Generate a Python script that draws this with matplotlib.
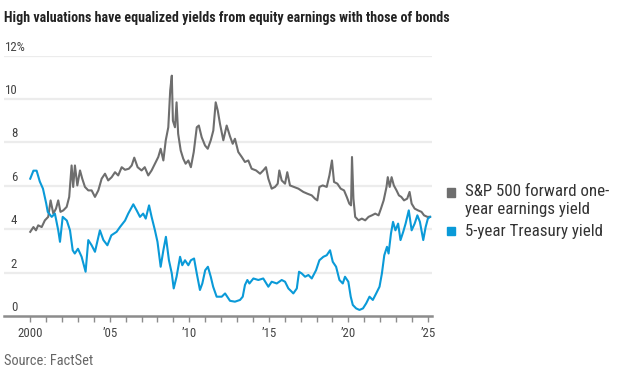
import matplotlib
matplotlib.use("Agg")
import matplotlib.pyplot as plt
import matplotlib.font_manager as fm

# values (decimal years, percent)
sp_years = [2000.0, 2000.2, 2000.36, 2000.5, 2000.72, 2000.92, 2001.13, 2001.28, 2001.45, 2001.62,
            2001.76, 2001.9, 2002.08, 2002.29, 2002.45, 2002.6, 2002.7, 2002.81, 2002.96, 2003.13,
            2003.27, 2003.44, 2003.65, 2003.86, 2004.07, 2004.28, 2004.49, 2004.7, 2004.9, 2005.12,
            2005.33, 2005.53, 2005.75, 2005.96, 2006.2, 2006.38, 2006.54, 2006.75, 2007.0, 2007.2,
            2007.42, 2007.63, 2007.84, 2008.05, 2008.2, 2008.37, 2008.52, 2008.68, 2008.8, 2008.9,
            2008.97, 2009.1, 2009.2, 2009.3, 2009.46, 2009.62, 2009.77, 2009.94, 2010.1, 2010.28,
            2010.47, 2010.6, 2010.78, 2010.99, 2011.16, 2011.35, 2011.51, 2011.66, 2011.79, 2011.93,
            2012.14, 2012.35, 2012.56, 2012.73, 2012.87, 2013.08, 2013.3, 2013.5, 2013.71, 2013.92,
            2014.2, 2014.45, 2014.65, 2014.82, 2014.97, 2015.18, 2015.39, 2015.56, 2015.66, 2015.81,
            2016.02, 2016.16, 2016.33, 2016.58, 2016.86, 2017.17, 2017.42, 2017.7, 2017.9, 2018.05,
            2018.18, 2018.39, 2018.64, 2018.81, 2018.97, 2019.1, 2019.31, 2019.52, 2019.73, 2019.9,
            2020.06, 2020.17, 2020.23, 2020.32, 2020.43, 2020.64, 2020.85, 2021.06, 2021.27, 2021.48,
            2021.69, 2021.9, 2022.05, 2022.22, 2022.4, 2022.48, 2022.6, 2022.72, 2022.86, 2023.03,
            2023.18, 2023.33, 2023.5, 2023.7, 2023.85, 2023.98, 2024.17, 2024.38, 2024.6, 2024.76,
            2024.97, 2025.14]
sp_vals = [3.88, 4.1, 3.95, 4.18, 4.1, 4.41, 4.57, 5.33, 4.72, 4.95,
           5.33, 4.8, 4.87, 5.03, 5.49, 6.94, 5.95, 6.94, 6.02, 6.71,
           6.33, 5.95, 5.79, 5.79, 5.49, 5.79, 6.33, 6.56, 6.25, 6.4,
           6.63, 6.48, 6.86, 6.74, 6.79, 6.94, 7.3, 6.86, 6.71, 6.86,
           6.48, 6.71, 7.02, 7.33, 7.71, 7.17, 8.1, 8.7, 10.4, 11.08,
           9.0, 8.7, 9.85, 8.4, 7.63, 7.25, 7.02, 7.17, 6.86, 7.56,
           8.7, 8.78, 8.24, 7.86, 7.71, 8.1, 8.55, 9.85, 9.47, 8.86,
           8.1, 8.78, 8.28, 7.94, 8.17, 7.56, 7.33, 7.1, 7.17, 6.79,
           6.71, 6.56, 6.71, 6.86, 6.33, 5.87, 5.95, 6.1, 6.71, 6.25,
           6.1, 6.63, 6.02, 5.95, 5.87, 5.72, 5.64, 5.56, 5.41, 5.33,
           5.95, 6.02, 5.95, 6.48, 7.17, 6.18, 6.1, 5.87, 5.79, 5.49,
           5.18, 5.1, 7.33, 5.41, 4.57, 4.41, 4.49, 4.41, 4.57, 4.64,
           4.72, 4.64, 4.95, 5.33, 5.95, 6.4, 5.95, 6.4, 6.02, 5.79,
           5.56, 5.49, 5.33, 5.41, 5.72, 5.18, 4.95, 4.87, 4.8, 4.64,
           4.57, 4.57]

tsy_years = [2000.0, 2000.2, 2000.4, 2000.6, 2000.8, 2001.0, 2001.1, 2001.35, 2001.55, 2001.76,
             2001.87, 2002.04, 2002.3, 2002.5, 2002.67, 2002.8, 2003.0, 2003.23, 2003.48, 2003.65,
             2003.86, 2004.07, 2004.38, 2004.6, 2004.85, 2005.1, 2005.43, 2005.64, 2005.96, 2006.16,
             2006.48, 2006.69, 2006.9, 2007.1, 2007.26, 2007.47, 2007.63, 2007.84, 2008.0, 2008.2,
             2008.37, 2008.53, 2008.72, 2008.9, 2009.02, 2009.2, 2009.42, 2009.56, 2009.73, 2009.94,
             2010.1, 2010.3, 2010.47, 2010.67, 2010.82, 2011.0, 2011.17, 2011.35, 2011.5, 2011.72,
             2012.04, 2012.25, 2012.56, 2012.87, 2013.19, 2013.36, 2013.5, 2013.65, 2013.78, 2014.03,
             2014.34, 2014.65, 2014.97, 2015.18, 2015.5, 2015.81, 2016.02, 2016.23, 2016.44, 2016.54,
             2016.76, 2016.9, 2017.07, 2017.28, 2017.49, 2017.7, 2017.97, 2018.18, 2018.43, 2018.64,
             2018.85, 2019.02, 2019.23, 2019.44, 2019.65, 2019.79, 2020.0, 2020.15, 2020.28, 2020.49,
             2020.7, 2020.92, 2021.12, 2021.33, 2021.54, 2021.75, 2021.96, 2022.11, 2022.26, 2022.43,
             2022.53, 2022.68, 2022.81, 2022.96, 2023.13, 2023.28, 2023.45, 2023.6, 2023.8, 2023.98,
             2024.17, 2024.34, 2024.5, 2024.71, 2024.86, 2025.0, 2025.14]
tsy_vals = [6.33, 6.7, 6.7, 6.2, 5.87, 5.2, 4.8, 4.57, 4.72, 3.95,
            3.42, 4.57, 4.4, 3.95, 3.03, 2.88, 3.1, 2.73, 2.04, 3.5,
            3.26, 2.96, 3.95, 3.5, 3.26, 3.72, 3.88, 4.1, 4.4, 4.72,
            5.15, 4.87, 4.57, 4.72, 4.49, 5.1, 4.57, 3.95, 3.42, 2.27,
            3.03, 3.65, 2.57, 1.96, 1.27, 1.81, 2.73, 2.34, 2.57, 2.34,
            2.57, 2.65, 1.96, 1.2, 1.5, 2.11, 2.27, 1.81, 1.35, 0.89,
            0.89, 1.04, 0.7, 0.66, 0.74, 0.89, 1.43, 1.66, 1.5, 1.73,
            1.66, 1.73, 1.35, 1.58, 1.5, 1.66, 1.58, 1.27, 1.12, 1.04,
            1.27, 2.04, 1.96, 1.81, 1.89, 1.73, 2.11, 2.57, 2.73, 2.8,
            3.03, 2.5, 2.27, 1.66, 1.5, 1.81, 1.58, 0.89, 0.51, 0.35,
            0.28, 0.35, 0.58, 0.89, 0.74, 1.04, 1.35, 1.96, 2.8, 3.19,
            2.88, 3.8, 4.34, 3.95, 4.26, 3.5, 3.88, 4.26, 4.87, 3.95,
            4.26, 4.64, 4.34, 3.5, 4.1, 4.49, 4.57]

y_ticks = [0, 2, 4, 6, 8, 10, 12]
x_ticks = [2000, 2005, 2010, 2015, 2020, 2025]
x_labels = ["2000", "\u201905", "\u201910", "\u201915", "\u201920", "\u201925"]

GREY = "#6e6e6e"
BLUE = "#0a9ad8"


# look for a narrow face like the WSJ one, otherwise fall back
def pick_font():
    entries = fm.fontManager.ttflist
    names = {e.name for e in entries}
    for want in ["Liberation Sans Narrow", "Roboto Condensed", "Noto Sans Condensed",
                 "Open Sans Condensed", "DejaVu Sans Condensed"]:
        if want in names:
            return want, "normal"
    for fam in ["Noto Sans", "Open Sans", "DejaVu Sans"]:
        for e in entries:
            fn = e.fname.lower()
            if e.name == fam and "condensed" in fn and "semi" not in fn and "extra" not in fn:
                return fam, "condensed"
    return "Liberation Sans", "normal"


FAM, STRETCH = pick_font()
plt.rcParams["font.family"] = [FAM, "DejaVu Sans"]
plt.rcParams["font.stretch"] = STRETCH

W, H = 617, 376
fig = plt.figure(figsize=(W / 100, H / 100), dpi=100)
fig.patch.set_facecolor("white")
renderer = fig.canvas.get_renderer()


def fx(px):
    return px / W


def fy(py):
    return 1 - py / H


def text_w(txt):
    return txt.get_window_extent(renderer).width


def fit(txt, target_px):
    # scale the font so the text spans the width it has in the reference
    txt.set_fontsize(txt.get_fontsize() * target_px / text_w(txt))
    return txt.get_fontsize()


ax = fig.add_axes([fx(4), fy(316), fx(432) - fx(4), fy(55.7) - fy(316)])
ax.set_xlim(1998.35, 2025.26)
ax.set_ylim(0, 12)

for v in y_ticks[1:]:
    ax.axhline(v, color="#ececec", lw=1.6, zorder=0)

ax.plot(sp_years, sp_vals, color=GREY, lw=1.5, zorder=2)
ax.plot(tsy_years, tsy_vals, color=BLUE, lw=1.5, zorder=3)

for s in ["top", "right", "left"]:
    ax.spines[s].set_visible(False)
ax.spines["bottom"].set_color("#8c8c8c")
ax.spines["bottom"].set_linewidth(1.8)
ax.set_yticks([])

# size tick text from the width of "2000" (about 25 px in the reference)
probe = fig.text(0, 0, "2000", fontsize=10)
tick_fs = fit(probe, 25)
probe.set_text("12")
w12 = text_w(probe)
probe.remove()

ax.set_xticks(x_ticks)
ax.set_xticklabels(x_labels)
ax.set_xticks(range(2000, 2026), minor=True)
ax.tick_params(axis="x", which="both", length=4, width=1, color="#8c8c8c",
               labelsize=tick_fs, labelcolor="#444444", pad=4)

# y labels sit above gridlines, digits right-aligned, % hanging after the top one
right_px = 0.5 + w12
for v in y_ticks[:-1]:
    ax.annotate(str(v), xy=(0, v), xycoords=("axes fraction", "data"),
                xytext=(right_px, 2), textcoords="offset pixels",
                ha="right", va="bottom", fontsize=tick_fs, color="#444444")
ax.annotate(f"{y_ticks[-1]}%", xy=(0, y_ticks[-1]), xycoords=("axes fraction", "data"),
            xytext=(0.5, 2), textcoords="offset pixels",
            ha="left", va="bottom", fontsize=tick_fs, color="#444444")

title = fig.text(fx(4), fy(18), "High valuations have equalized yields from equity earnings with those of bonds",
                 fontsize=11.5, fontweight="bold", color="#222222", va="center", ha="left")
fit(title, 445)
src = fig.text(fx(4), fy(361), "Source: FactSet", fontsize=10, color="#666666", va="center", ha="left")
fit(src, 89)

# legend
fig.patches.append(plt.Rectangle((fx(447), fy(197)), fx(8), fy(188) - fy(197),
                                 transform=fig.transFigure, color=GREY, figure=fig))
fig.patches.append(plt.Rectangle((fx(447), fy(235)), fx(8), fy(227) - fy(235),
                                 transform=fig.transFigure, color=BLUE, figure=fig))
leg1 = fig.text(fx(465), fy(192), "S&P 500 forward one-", fontsize=11.5, color="#333333", va="center")
leg_fs = fit(leg1, 144)
fig.text(fx(465), fy(210), "year earnings yield", fontsize=leg_fs, color="#333333", va="center")
fig.text(fx(465), fy(231), "5-year Treasury yield", fontsize=leg_fs, color="#333333", va="center")

fig.savefig("out.png", dpi=100)
